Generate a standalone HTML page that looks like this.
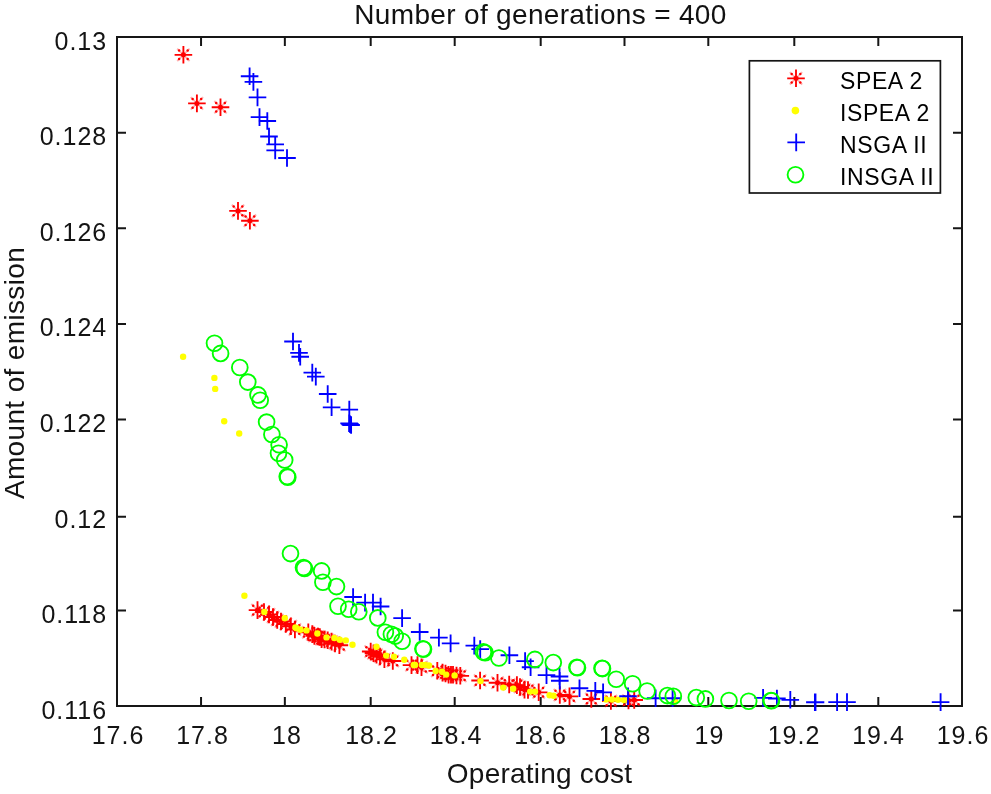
<!DOCTYPE html>
<html><head><meta charset="utf-8"><style>html,body{margin:0;padding:0;background:#fff;}svg{display:block;will-change:transform;}#w{width:991px;height:794px;overflow:hidden;}</style></head>
<body><div id="w"><svg width="991" height="794" viewBox="0 0 991 794">

<rect width="991" height="794" fill="#fff"/>
<g fill="none" stroke="#161616" stroke-width="2">
<rect x="117" y="37" width="845" height="669"/>
<path d="M117.00 706v-9M117.00 37v9M201.05 706v-9M201.05 37v9M284.85 706v-9M284.85 37v9M370.70 706v-9M370.70 37v9M454.70 706v-9M454.70 37v9M540.70 706v-9M540.70 37v9M624.50 706v-9M624.50 37v9M708.30 706v-9M708.30 37v9M794.30 706v-9M794.30 37v9M878.30 706v-9M878.30 37v9M962.00 706v-9M962.00 37v9M117 706.00h9M962 706.00h-9M117 610.40h9M962 610.40h-9M117 516.80h9M962 516.80h-9M117 419.40h9M962 419.40h-9M117 324.00h9M962 324.00h-9M117 228.20h9M962 228.20h-9M117 132.80h9M962 132.80h-9M117 37.00h9M962 37.00h-9"/>
</g>
<g fill="none" stroke-width="1.85" stroke-linecap="butt">
<g stroke="#ff0000"><path d="M174.6 54.8h17.6M183.4 46.0v17.6M188.1 103.4h17.6M196.9 94.6v17.6M211.7 107.2h17.6M220.5 98.4v17.6M229.2 210.9h17.6M238.0 202.1v17.6M241.1 220.7h17.6M249.9 211.9v17.6M248.7 610.1h17.6M257.5 601.3v17.6M255.2 612.0h17.6M264.0 603.2v17.6M260.2 614.4h17.6M269.0 605.6v17.6M264.2 617.0h17.6M273.0 608.2v17.6M268.4 620.0h17.6M277.2 611.2v17.6M272.2 621.5h17.6M281.0 612.7v17.6M277.0 624.0h17.6M285.8 615.2v17.6M282.0 626.2h17.6M290.8 617.4v17.6M286.1 629.5h17.6M294.9 620.7v17.6M299.5 632.3h17.6M308.3 623.5v17.6M303.5 634.1h17.6M312.3 625.3v17.6M305.6 635.9h17.6M314.4 627.1v17.6M309.2 636.5h17.6M318.0 627.7v17.6M311.0 637.0h17.6M319.8 628.2v17.6M312.8 639.2h17.6M321.6 630.4v17.6M315.7 639.5h17.6M324.5 630.7v17.6M318.9 640.2h17.6M327.7 631.4v17.6M322.8 641.6h17.6M331.6 632.8v17.6M326.2 643.5h17.6M335.0 634.7v17.6M330.6 645.2h17.6M339.4 636.4v17.6M361.9 651.5h17.6M370.7 642.7v17.6M364.7 653.2h17.6M373.5 644.4v17.6M367.7 654.7h17.6M376.5 645.9v17.6M371.2 656.5h17.6M380.0 647.7v17.6M375.6 659.3h17.6M384.4 650.5v17.6M384.0 661.0h17.6M392.8 652.2v17.6M402.7 665.1h17.6M411.5 656.3v17.6M408.7 665.1h17.6M417.5 656.3v17.6M412.7 667.2h17.6M421.5 658.4v17.6M428.5 670.8h17.6M437.3 662.0v17.6M433.7 672.6h17.6M442.5 663.8v17.6M436.7 673.5h17.6M445.5 664.7v17.6M439.8 674.8h17.6M448.6 666.0v17.6M442.2 674.8h17.6M451.0 666.0v17.6M444.2 674.8h17.6M453.0 666.0v17.6M447.7 675.5h17.6M456.5 666.7v17.6M451.5 675.8h17.6M460.3 667.0v17.6M471.3 680.5h17.6M480.1 671.7v17.6M488.7 682.7h17.6M497.5 673.9v17.6M500.4 684.5h17.6M509.2 675.7v17.6M508.1 685.1h17.6M516.9 676.3v17.6M511.2 687.0h17.6M520.0 678.2v17.6M515.7 689.6h17.6M524.5 680.8v17.6M519.2 690.0h17.6M528.0 681.2v17.6M529.9 692.3h17.6M538.7 683.5v17.6M551.0 695.0h17.6M559.8 686.2v17.6M560.7 696.4h17.6M569.5 687.6v17.6M582.5 699.0h17.6M591.3 690.2v17.6M602.1 701.0h17.6M610.9 692.2v17.6M619.7 700.5h17.6M628.5 691.7v17.6M625.4 700.0h17.6M634.2 691.2v17.6"/><path stroke-opacity="0.3" d="M177.2 48.6l12.4 12.4M177.2 61.0l12.4 -12.4M190.7 97.2l12.4 12.4M190.7 109.6l12.4 -12.4M214.3 101.0l12.4 12.4M214.3 113.4l12.4 -12.4M231.8 204.7l12.4 12.4M231.8 217.1l12.4 -12.4M243.7 214.5l12.4 12.4M243.7 226.9l12.4 -12.4M251.3 603.9l12.4 12.4M251.3 616.3l12.4 -12.4M257.8 605.8l12.4 12.4M257.8 618.2l12.4 -12.4M262.8 608.2l12.4 12.4M262.8 620.6l12.4 -12.4M266.8 610.8l12.4 12.4M266.8 623.2l12.4 -12.4M271.0 613.8l12.4 12.4M271.0 626.2l12.4 -12.4M274.8 615.3l12.4 12.4M274.8 627.7l12.4 -12.4M279.6 617.8l12.4 12.4M279.6 630.2l12.4 -12.4M284.6 620.0l12.4 12.4M284.6 632.4l12.4 -12.4M288.7 623.3l12.4 12.4M288.7 635.7l12.4 -12.4M302.1 626.1l12.4 12.4M302.1 638.5l12.4 -12.4M306.1 627.9l12.4 12.4M306.1 640.3l12.4 -12.4M308.2 629.7l12.4 12.4M308.2 642.1l12.4 -12.4M311.8 630.3l12.4 12.4M311.8 642.7l12.4 -12.4M313.6 630.8l12.4 12.4M313.6 643.2l12.4 -12.4M315.4 633.0l12.4 12.4M315.4 645.4l12.4 -12.4M318.3 633.3l12.4 12.4M318.3 645.7l12.4 -12.4M321.5 634.0l12.4 12.4M321.5 646.4l12.4 -12.4M325.4 635.4l12.4 12.4M325.4 647.8l12.4 -12.4M328.8 637.3l12.4 12.4M328.8 649.7l12.4 -12.4M333.2 639.0l12.4 12.4M333.2 651.4l12.4 -12.4M364.5 645.3l12.4 12.4M364.5 657.7l12.4 -12.4M367.3 647.0l12.4 12.4M367.3 659.4l12.4 -12.4M370.3 648.5l12.4 12.4M370.3 660.9l12.4 -12.4M373.8 650.3l12.4 12.4M373.8 662.7l12.4 -12.4M378.2 653.1l12.4 12.4M378.2 665.5l12.4 -12.4M386.6 654.8l12.4 12.4M386.6 667.2l12.4 -12.4M405.3 658.9l12.4 12.4M405.3 671.3l12.4 -12.4M411.3 658.9l12.4 12.4M411.3 671.3l12.4 -12.4M415.3 661.0l12.4 12.4M415.3 673.4l12.4 -12.4M431.1 664.6l12.4 12.4M431.1 677.0l12.4 -12.4M436.3 666.4l12.4 12.4M436.3 678.8l12.4 -12.4M439.3 667.3l12.4 12.4M439.3 679.7l12.4 -12.4M442.4 668.6l12.4 12.4M442.4 681.0l12.4 -12.4M444.8 668.6l12.4 12.4M444.8 681.0l12.4 -12.4M446.8 668.6l12.4 12.4M446.8 681.0l12.4 -12.4M450.3 669.3l12.4 12.4M450.3 681.7l12.4 -12.4M454.1 669.6l12.4 12.4M454.1 682.0l12.4 -12.4M473.9 674.3l12.4 12.4M473.9 686.7l12.4 -12.4M491.3 676.5l12.4 12.4M491.3 688.9l12.4 -12.4M503.0 678.3l12.4 12.4M503.0 690.7l12.4 -12.4M510.7 678.9l12.4 12.4M510.7 691.3l12.4 -12.4M513.8 680.8l12.4 12.4M513.8 693.2l12.4 -12.4M518.3 683.4l12.4 12.4M518.3 695.8l12.4 -12.4M521.8 683.8l12.4 12.4M521.8 696.2l12.4 -12.4M532.5 686.1l12.4 12.4M532.5 698.5l12.4 -12.4M553.6 688.8l12.4 12.4M553.6 701.2l12.4 -12.4M563.3 690.2l12.4 12.4M563.3 702.6l12.4 -12.4M585.1 692.8l12.4 12.4M585.1 705.2l12.4 -12.4M604.7 694.8l12.4 12.4M604.7 707.2l12.4 -12.4M622.3 694.3l12.4 12.4M622.3 706.7l12.4 -12.4M628.0 693.8l12.4 12.4M628.0 706.2l12.4 -12.4"/><g fill="#ff0000" stroke="none"><circle cx="183.4" cy="54.8" r="2.5"/><circle cx="179.1" cy="50.5" r="1.25"/><circle cx="179.1" cy="59.1" r="1.25"/><circle cx="187.7" cy="50.5" r="1.25"/><circle cx="187.7" cy="59.1" r="1.25"/><circle cx="196.9" cy="103.4" r="2.5"/><circle cx="192.6" cy="99.1" r="1.25"/><circle cx="192.6" cy="107.7" r="1.25"/><circle cx="201.2" cy="99.1" r="1.25"/><circle cx="201.2" cy="107.7" r="1.25"/><circle cx="220.5" cy="107.2" r="2.5"/><circle cx="216.2" cy="102.9" r="1.25"/><circle cx="216.2" cy="111.5" r="1.25"/><circle cx="224.8" cy="102.9" r="1.25"/><circle cx="224.8" cy="111.5" r="1.25"/><circle cx="238.0" cy="210.9" r="2.5"/><circle cx="233.7" cy="206.6" r="1.25"/><circle cx="233.7" cy="215.2" r="1.25"/><circle cx="242.3" cy="206.6" r="1.25"/><circle cx="242.3" cy="215.2" r="1.25"/><circle cx="249.9" cy="220.7" r="2.5"/><circle cx="245.6" cy="216.4" r="1.25"/><circle cx="245.6" cy="225.0" r="1.25"/><circle cx="254.2" cy="216.4" r="1.25"/><circle cx="254.2" cy="225.0" r="1.25"/><circle cx="257.5" cy="610.1" r="2.5"/><circle cx="253.2" cy="605.8" r="1.25"/><circle cx="253.2" cy="614.4" r="1.25"/><circle cx="261.8" cy="605.8" r="1.25"/><circle cx="261.8" cy="614.4" r="1.25"/><circle cx="264.0" cy="612.0" r="2.5"/><circle cx="259.7" cy="607.7" r="1.25"/><circle cx="259.7" cy="616.3" r="1.25"/><circle cx="268.3" cy="607.7" r="1.25"/><circle cx="268.3" cy="616.3" r="1.25"/><circle cx="269.0" cy="614.4" r="2.5"/><circle cx="264.7" cy="610.1" r="1.25"/><circle cx="264.7" cy="618.7" r="1.25"/><circle cx="273.3" cy="610.1" r="1.25"/><circle cx="273.3" cy="618.7" r="1.25"/><circle cx="273.0" cy="617.0" r="2.5"/><circle cx="268.7" cy="612.7" r="1.25"/><circle cx="268.7" cy="621.3" r="1.25"/><circle cx="277.3" cy="612.7" r="1.25"/><circle cx="277.3" cy="621.3" r="1.25"/><circle cx="277.2" cy="620.0" r="2.5"/><circle cx="272.9" cy="615.7" r="1.25"/><circle cx="272.9" cy="624.3" r="1.25"/><circle cx="281.5" cy="615.7" r="1.25"/><circle cx="281.5" cy="624.3" r="1.25"/><circle cx="281.0" cy="621.5" r="2.5"/><circle cx="276.7" cy="617.2" r="1.25"/><circle cx="276.7" cy="625.8" r="1.25"/><circle cx="285.3" cy="617.2" r="1.25"/><circle cx="285.3" cy="625.8" r="1.25"/><circle cx="285.8" cy="624.0" r="2.5"/><circle cx="281.5" cy="619.7" r="1.25"/><circle cx="281.5" cy="628.3" r="1.25"/><circle cx="290.1" cy="619.7" r="1.25"/><circle cx="290.1" cy="628.3" r="1.25"/><circle cx="290.8" cy="626.2" r="2.5"/><circle cx="286.5" cy="621.9" r="1.25"/><circle cx="286.5" cy="630.5" r="1.25"/><circle cx="295.1" cy="621.9" r="1.25"/><circle cx="295.1" cy="630.5" r="1.25"/><circle cx="294.9" cy="629.5" r="2.5"/><circle cx="290.6" cy="625.2" r="1.25"/><circle cx="290.6" cy="633.8" r="1.25"/><circle cx="299.2" cy="625.2" r="1.25"/><circle cx="299.2" cy="633.8" r="1.25"/><circle cx="308.3" cy="632.3" r="2.5"/><circle cx="304.0" cy="628.0" r="1.25"/><circle cx="304.0" cy="636.6" r="1.25"/><circle cx="312.6" cy="628.0" r="1.25"/><circle cx="312.6" cy="636.6" r="1.25"/><circle cx="312.3" cy="634.1" r="2.5"/><circle cx="308.0" cy="629.8" r="1.25"/><circle cx="308.0" cy="638.4" r="1.25"/><circle cx="316.6" cy="629.8" r="1.25"/><circle cx="316.6" cy="638.4" r="1.25"/><circle cx="314.4" cy="635.9" r="2.5"/><circle cx="310.1" cy="631.6" r="1.25"/><circle cx="310.1" cy="640.2" r="1.25"/><circle cx="318.7" cy="631.6" r="1.25"/><circle cx="318.7" cy="640.2" r="1.25"/><circle cx="318.0" cy="636.5" r="2.5"/><circle cx="313.7" cy="632.2" r="1.25"/><circle cx="313.7" cy="640.8" r="1.25"/><circle cx="322.3" cy="632.2" r="1.25"/><circle cx="322.3" cy="640.8" r="1.25"/><circle cx="319.8" cy="637.0" r="2.5"/><circle cx="315.5" cy="632.7" r="1.25"/><circle cx="315.5" cy="641.3" r="1.25"/><circle cx="324.1" cy="632.7" r="1.25"/><circle cx="324.1" cy="641.3" r="1.25"/><circle cx="321.6" cy="639.2" r="2.5"/><circle cx="317.3" cy="634.9" r="1.25"/><circle cx="317.3" cy="643.5" r="1.25"/><circle cx="325.9" cy="634.9" r="1.25"/><circle cx="325.9" cy="643.5" r="1.25"/><circle cx="324.5" cy="639.5" r="2.5"/><circle cx="320.2" cy="635.2" r="1.25"/><circle cx="320.2" cy="643.8" r="1.25"/><circle cx="328.8" cy="635.2" r="1.25"/><circle cx="328.8" cy="643.8" r="1.25"/><circle cx="327.7" cy="640.2" r="2.5"/><circle cx="323.4" cy="635.9" r="1.25"/><circle cx="323.4" cy="644.5" r="1.25"/><circle cx="332.0" cy="635.9" r="1.25"/><circle cx="332.0" cy="644.5" r="1.25"/><circle cx="331.6" cy="641.6" r="2.5"/><circle cx="327.3" cy="637.3" r="1.25"/><circle cx="327.3" cy="645.9" r="1.25"/><circle cx="335.9" cy="637.3" r="1.25"/><circle cx="335.9" cy="645.9" r="1.25"/><circle cx="335.0" cy="643.5" r="2.5"/><circle cx="330.7" cy="639.2" r="1.25"/><circle cx="330.7" cy="647.8" r="1.25"/><circle cx="339.3" cy="639.2" r="1.25"/><circle cx="339.3" cy="647.8" r="1.25"/><circle cx="339.4" cy="645.2" r="2.5"/><circle cx="335.1" cy="640.9" r="1.25"/><circle cx="335.1" cy="649.5" r="1.25"/><circle cx="343.7" cy="640.9" r="1.25"/><circle cx="343.7" cy="649.5" r="1.25"/><circle cx="370.7" cy="651.5" r="2.5"/><circle cx="366.4" cy="647.2" r="1.25"/><circle cx="366.4" cy="655.8" r="1.25"/><circle cx="375.0" cy="647.2" r="1.25"/><circle cx="375.0" cy="655.8" r="1.25"/><circle cx="373.5" cy="653.2" r="2.5"/><circle cx="369.2" cy="648.9" r="1.25"/><circle cx="369.2" cy="657.5" r="1.25"/><circle cx="377.8" cy="648.9" r="1.25"/><circle cx="377.8" cy="657.5" r="1.25"/><circle cx="376.5" cy="654.7" r="2.5"/><circle cx="372.2" cy="650.4" r="1.25"/><circle cx="372.2" cy="659.0" r="1.25"/><circle cx="380.8" cy="650.4" r="1.25"/><circle cx="380.8" cy="659.0" r="1.25"/><circle cx="380.0" cy="656.5" r="2.5"/><circle cx="375.7" cy="652.2" r="1.25"/><circle cx="375.7" cy="660.8" r="1.25"/><circle cx="384.3" cy="652.2" r="1.25"/><circle cx="384.3" cy="660.8" r="1.25"/><circle cx="384.4" cy="659.3" r="2.5"/><circle cx="380.1" cy="655.0" r="1.25"/><circle cx="380.1" cy="663.6" r="1.25"/><circle cx="388.7" cy="655.0" r="1.25"/><circle cx="388.7" cy="663.6" r="1.25"/><circle cx="392.8" cy="661.0" r="2.5"/><circle cx="388.5" cy="656.7" r="1.25"/><circle cx="388.5" cy="665.3" r="1.25"/><circle cx="397.1" cy="656.7" r="1.25"/><circle cx="397.1" cy="665.3" r="1.25"/><circle cx="411.5" cy="665.1" r="2.5"/><circle cx="407.2" cy="660.8" r="1.25"/><circle cx="407.2" cy="669.4" r="1.25"/><circle cx="415.8" cy="660.8" r="1.25"/><circle cx="415.8" cy="669.4" r="1.25"/><circle cx="417.5" cy="665.1" r="2.5"/><circle cx="413.2" cy="660.8" r="1.25"/><circle cx="413.2" cy="669.4" r="1.25"/><circle cx="421.8" cy="660.8" r="1.25"/><circle cx="421.8" cy="669.4" r="1.25"/><circle cx="421.5" cy="667.2" r="2.5"/><circle cx="417.2" cy="662.9" r="1.25"/><circle cx="417.2" cy="671.5" r="1.25"/><circle cx="425.8" cy="662.9" r="1.25"/><circle cx="425.8" cy="671.5" r="1.25"/><circle cx="437.3" cy="670.8" r="2.5"/><circle cx="433.0" cy="666.5" r="1.25"/><circle cx="433.0" cy="675.1" r="1.25"/><circle cx="441.6" cy="666.5" r="1.25"/><circle cx="441.6" cy="675.1" r="1.25"/><circle cx="442.5" cy="672.6" r="2.5"/><circle cx="438.2" cy="668.3" r="1.25"/><circle cx="438.2" cy="676.9" r="1.25"/><circle cx="446.8" cy="668.3" r="1.25"/><circle cx="446.8" cy="676.9" r="1.25"/><circle cx="445.5" cy="673.5" r="2.5"/><circle cx="441.2" cy="669.2" r="1.25"/><circle cx="441.2" cy="677.8" r="1.25"/><circle cx="449.8" cy="669.2" r="1.25"/><circle cx="449.8" cy="677.8" r="1.25"/><circle cx="448.6" cy="674.8" r="2.5"/><circle cx="444.3" cy="670.5" r="1.25"/><circle cx="444.3" cy="679.1" r="1.25"/><circle cx="452.9" cy="670.5" r="1.25"/><circle cx="452.9" cy="679.1" r="1.25"/><circle cx="451.0" cy="674.8" r="2.5"/><circle cx="446.7" cy="670.5" r="1.25"/><circle cx="446.7" cy="679.1" r="1.25"/><circle cx="455.3" cy="670.5" r="1.25"/><circle cx="455.3" cy="679.1" r="1.25"/><circle cx="453.0" cy="674.8" r="2.5"/><circle cx="448.7" cy="670.5" r="1.25"/><circle cx="448.7" cy="679.1" r="1.25"/><circle cx="457.3" cy="670.5" r="1.25"/><circle cx="457.3" cy="679.1" r="1.25"/><circle cx="456.5" cy="675.5" r="2.5"/><circle cx="452.2" cy="671.2" r="1.25"/><circle cx="452.2" cy="679.8" r="1.25"/><circle cx="460.8" cy="671.2" r="1.25"/><circle cx="460.8" cy="679.8" r="1.25"/><circle cx="460.3" cy="675.8" r="2.5"/><circle cx="456.0" cy="671.5" r="1.25"/><circle cx="456.0" cy="680.1" r="1.25"/><circle cx="464.6" cy="671.5" r="1.25"/><circle cx="464.6" cy="680.1" r="1.25"/><circle cx="480.1" cy="680.5" r="2.5"/><circle cx="475.8" cy="676.2" r="1.25"/><circle cx="475.8" cy="684.8" r="1.25"/><circle cx="484.4" cy="676.2" r="1.25"/><circle cx="484.4" cy="684.8" r="1.25"/><circle cx="497.5" cy="682.7" r="2.5"/><circle cx="493.2" cy="678.4" r="1.25"/><circle cx="493.2" cy="687.0" r="1.25"/><circle cx="501.8" cy="678.4" r="1.25"/><circle cx="501.8" cy="687.0" r="1.25"/><circle cx="509.2" cy="684.5" r="2.5"/><circle cx="504.9" cy="680.2" r="1.25"/><circle cx="504.9" cy="688.8" r="1.25"/><circle cx="513.5" cy="680.2" r="1.25"/><circle cx="513.5" cy="688.8" r="1.25"/><circle cx="516.9" cy="685.1" r="2.5"/><circle cx="512.6" cy="680.8" r="1.25"/><circle cx="512.6" cy="689.4" r="1.25"/><circle cx="521.2" cy="680.8" r="1.25"/><circle cx="521.2" cy="689.4" r="1.25"/><circle cx="520.0" cy="687.0" r="2.5"/><circle cx="515.7" cy="682.7" r="1.25"/><circle cx="515.7" cy="691.3" r="1.25"/><circle cx="524.3" cy="682.7" r="1.25"/><circle cx="524.3" cy="691.3" r="1.25"/><circle cx="524.5" cy="689.6" r="2.5"/><circle cx="520.2" cy="685.3" r="1.25"/><circle cx="520.2" cy="693.9" r="1.25"/><circle cx="528.8" cy="685.3" r="1.25"/><circle cx="528.8" cy="693.9" r="1.25"/><circle cx="528.0" cy="690.0" r="2.5"/><circle cx="523.7" cy="685.7" r="1.25"/><circle cx="523.7" cy="694.3" r="1.25"/><circle cx="532.3" cy="685.7" r="1.25"/><circle cx="532.3" cy="694.3" r="1.25"/><circle cx="538.7" cy="692.3" r="2.5"/><circle cx="534.4" cy="688.0" r="1.25"/><circle cx="534.4" cy="696.6" r="1.25"/><circle cx="543.0" cy="688.0" r="1.25"/><circle cx="543.0" cy="696.6" r="1.25"/><circle cx="559.8" cy="695.0" r="2.5"/><circle cx="555.5" cy="690.7" r="1.25"/><circle cx="555.5" cy="699.3" r="1.25"/><circle cx="564.1" cy="690.7" r="1.25"/><circle cx="564.1" cy="699.3" r="1.25"/><circle cx="569.5" cy="696.4" r="2.5"/><circle cx="565.2" cy="692.1" r="1.25"/><circle cx="565.2" cy="700.7" r="1.25"/><circle cx="573.8" cy="692.1" r="1.25"/><circle cx="573.8" cy="700.7" r="1.25"/><circle cx="591.3" cy="699.0" r="2.5"/><circle cx="587.0" cy="694.7" r="1.25"/><circle cx="587.0" cy="703.3" r="1.25"/><circle cx="595.6" cy="694.7" r="1.25"/><circle cx="595.6" cy="703.3" r="1.25"/><circle cx="610.9" cy="701.0" r="2.5"/><circle cx="606.6" cy="696.7" r="1.25"/><circle cx="606.6" cy="705.3" r="1.25"/><circle cx="615.2" cy="696.7" r="1.25"/><circle cx="615.2" cy="705.3" r="1.25"/><circle cx="628.5" cy="700.5" r="2.5"/><circle cx="624.2" cy="696.2" r="1.25"/><circle cx="624.2" cy="704.8" r="1.25"/><circle cx="632.8" cy="696.2" r="1.25"/><circle cx="632.8" cy="704.8" r="1.25"/><circle cx="634.2" cy="700.0" r="2.5"/><circle cx="629.9" cy="695.7" r="1.25"/><circle cx="629.9" cy="704.3" r="1.25"/><circle cx="638.5" cy="695.7" r="1.25"/><circle cx="638.5" cy="704.3" r="1.25"/></g></g>
<g fill="#ffff00" stroke="none"><circle cx="183.1" cy="356.8" r="3.2"/><circle cx="214.4" cy="377.9" r="3.2"/><circle cx="215.2" cy="388.9" r="3.2"/><circle cx="224.2" cy="421.3" r="3.2"/><circle cx="239.2" cy="433.5" r="3.2"/><circle cx="244.4" cy="595.8" r="3.2"/><circle cx="264.3" cy="611.9" r="3.2"/><circle cx="284.8" cy="618.2" r="3.2"/><circle cx="295.4" cy="627.5" r="3.2"/><circle cx="296.8" cy="628.3" r="3.2"/><circle cx="300.4" cy="629.8" r="3.2"/><circle cx="306.5" cy="630.4" r="3.2"/><circle cx="317.4" cy="633.5" r="3.2"/><circle cx="326.5" cy="637.4" r="3.2"/><circle cx="334.3" cy="638.0" r="3.2"/><circle cx="339.8" cy="639.8" r="3.2"/><circle cx="345.8" cy="640.4" r="3.2"/><circle cx="352.5" cy="644.7" r="3.2"/><circle cx="376.5" cy="646.8" r="3.2"/><circle cx="386.2" cy="655.6" r="3.2"/><circle cx="394.0" cy="656.8" r="3.2"/><circle cx="404.3" cy="659.8" r="3.2"/><circle cx="413.7" cy="665.0" r="3.2"/><circle cx="415.1" cy="664.9" r="3.2"/><circle cx="422.0" cy="665.0" r="3.2"/><circle cx="425.2" cy="664.9" r="3.2"/><circle cx="429.0" cy="665.5" r="3.2"/><circle cx="435.7" cy="671.0" r="3.2"/><circle cx="442.1" cy="671.8" r="3.2"/><circle cx="446.2" cy="674.6" r="3.2"/><circle cx="454.6" cy="675.4" r="3.2"/><circle cx="480.5" cy="681.1" r="3.2"/><circle cx="503.2" cy="687.6" r="3.2"/><circle cx="513.2" cy="688.8" r="3.2"/><circle cx="530.2" cy="691.6" r="3.2"/><circle cx="535.0" cy="691.6" r="3.2"/><circle cx="549.6" cy="695.3" r="3.2"/><circle cx="553.6" cy="695.7" r="3.2"/><circle cx="606.0" cy="699.5" r="3.2"/><circle cx="612.0" cy="699.5" r="3.2"/><circle cx="618.0" cy="699.8" r="3.2"/><circle cx="624.0" cy="700.0" r="3.2"/><circle cx="675.0" cy="701.0" r="3.2"/></g>
<g stroke="#0000ff"><path d="M240.8 76.2h17.6M249.6 67.4v17.6M244.6 81.9h17.6M253.4 73.1v17.6M248.7 97.4h17.6M257.5 88.6v17.6M250.7 117.1h17.6M259.5 108.3v17.6M258.5 121.0h17.6M267.3 112.2v17.6M260.2 136.5h17.6M269.0 127.7v17.6M266.4 144.3h17.6M275.2 135.5v17.6M266.4 150.4h17.6M275.2 141.6v17.6M278.2 158.0h17.6M287.0 149.2v17.6M284.2 341.5h17.6M293.0 332.7v17.6M290.2 352.9h17.6M299.0 344.1v17.6M291.4 356.7h17.6M300.2 347.9v17.6M303.5 372.6h17.6M312.3 363.8v17.6M307.0 376.6h17.6M315.8 367.8v17.6M318.9 394.0h17.6M327.7 385.2v17.6M322.8 407.3h17.6M331.6 398.5v17.6M340.5 409.6h17.6M349.3 400.8v17.6M340.3 423.3h17.6M349.1 414.5v17.6M341.3 424.2h17.6M350.1 415.4v17.6M342.3 425.0h17.6M351.1 416.2v17.6M344.3 597.0h17.6M353.1 588.2v17.6M356.3 602.6h17.6M365.1 593.8v17.6M364.2 602.6h17.6M373.0 593.8v17.6M371.8 606.5h17.6M380.6 597.7v17.6M393.3 618.1h17.6M402.1 609.3v17.6M410.9 632.0h17.6M419.7 623.2v17.6M430.1 637.6h17.6M438.9 628.8v17.6M441.8 643.4h17.6M450.6 634.6v17.6M465.5 645.6h17.6M474.3 636.8v17.6M471.4 649.1h17.6M480.2 640.3v17.6M500.6 655.2h17.6M509.4 646.4v17.6M516.3 661.1h17.6M525.1 652.3v17.6M521.8 667.2h17.6M530.6 658.4v17.6M537.7 675.1h17.6M546.5 666.3v17.6M550.7 676.5h17.6M559.5 667.7v17.6M551.0 680.7h17.6M559.8 671.9v17.6M570.7 688.2h17.6M579.5 679.4v17.6M586.5 690.8h17.6M595.3 682.0v17.6M594.3 692.3h17.6M603.1 683.5v17.6M619.2 696.2h17.6M628.0 687.4v17.6M646.8 698.2h17.6M655.6 689.4v17.6M663.8 698.2h17.6M672.6 689.4v17.6M754.3 697.9h17.6M763.1 689.1v17.6M768.1 698.5h17.6M776.9 689.7v17.6M781.5 699.8h17.6M790.3 691.0v17.6M806.1 702.2h17.6M814.9 693.4v17.6M806.7 702.2h17.6M815.5 693.4v17.6M828.3 702.1h17.6M837.1 693.3v17.6M838.2 702.1h17.6M847.0 693.3v17.6M931.8 702.1h17.6M940.6 693.3v17.6"/></g>
<g stroke="#00ff00"><circle cx="214.5" cy="343.2" r="7.9"/><circle cx="220.6" cy="353.4" r="7.9"/><circle cx="239.8" cy="367.5" r="7.9"/><circle cx="247.8" cy="382.1" r="7.9"/><circle cx="258.0" cy="394.9" r="7.9"/><circle cx="260.2" cy="400.3" r="7.9"/><circle cx="266.6" cy="422.1" r="7.9"/><circle cx="271.9" cy="434.5" r="7.9"/><circle cx="279.1" cy="444.7" r="7.9"/><circle cx="278.5" cy="453.2" r="7.9"/><circle cx="284.7" cy="460.0" r="7.9"/><circle cx="287.2" cy="476.5" r="7.9"/><circle cx="287.8" cy="477.3" r="7.9"/><circle cx="290.5" cy="553.6" r="7.9"/><circle cx="303.5" cy="567.5" r="7.9"/><circle cx="304.5" cy="568.5" r="7.9"/><circle cx="321.6" cy="570.9" r="7.9"/><circle cx="322.9" cy="582.2" r="7.9"/><circle cx="336.5" cy="586.6" r="7.9"/><circle cx="338.0" cy="606.2" r="7.9"/><circle cx="348.7" cy="609.3" r="7.9"/><circle cx="358.8" cy="611.8" r="7.9"/><circle cx="377.8" cy="617.9" r="7.9"/><circle cx="385.4" cy="632.3" r="7.9"/><circle cx="391.4" cy="634.2" r="7.9"/><circle cx="395.2" cy="636.1" r="7.9"/><circle cx="402.1" cy="641.2" r="7.9"/><circle cx="422.9" cy="648.7" r="7.9"/><circle cx="423.5" cy="649.2" r="7.9"/><circle cx="483.4" cy="651.9" r="7.9"/><circle cx="485.1" cy="652.8" r="7.9"/><circle cx="498.9" cy="658.0" r="7.9"/><circle cx="534.9" cy="659.4" r="7.9"/><circle cx="553.3" cy="662.6" r="7.9"/><circle cx="576.9" cy="667.2" r="7.9"/><circle cx="577.5" cy="667.7" r="7.9"/><circle cx="602.0" cy="668.3" r="7.9"/><circle cx="602.5" cy="668.6" r="7.9"/><circle cx="616.2" cy="679.2" r="7.9"/><circle cx="632.6" cy="683.8" r="7.9"/><circle cx="647.1" cy="691.0" r="7.9"/><circle cx="667.4" cy="695.6" r="7.9"/><circle cx="673.3" cy="696.2" r="7.9"/><circle cx="696.3" cy="697.6" r="7.9"/><circle cx="705.4" cy="698.9" r="7.9"/><circle cx="729.0" cy="700.5" r="7.9"/><circle cx="748.7" cy="701.2" r="7.9"/><circle cx="771.0" cy="700.5" r="7.9"/><circle cx="771.5" cy="700.8" r="7.9"/></g>
</g>
<g font-family="Liberation Sans, sans-serif" font-size="25" fill="#141414" letter-spacing="1.0">
<text x="118.00" y="744.4" text-anchor="middle">17.6</text><text x="202.50" y="744.4" text-anchor="middle">17.8</text><text x="287.00" y="744.4" text-anchor="middle">18</text><text x="371.50" y="744.4" text-anchor="middle">18.2</text><text x="456.00" y="744.4" text-anchor="middle">18.4</text><text x="540.50" y="744.4" text-anchor="middle">18.6</text><text x="625.00" y="744.4" text-anchor="middle">18.8</text><text x="709.50" y="744.4" text-anchor="middle">19</text><text x="794.00" y="744.4" text-anchor="middle">19.2</text><text x="878.50" y="744.4" text-anchor="middle">19.4</text><text x="963.00" y="744.4" text-anchor="middle">19.6</text><text x="107.2" y="718.70" text-anchor="end">0.116</text><text x="107.2" y="623.13" text-anchor="end">0.118</text><text x="107.2" y="527.56" text-anchor="end">0.12</text><text x="107.2" y="431.99" text-anchor="end">0.122</text><text x="107.2" y="336.41" text-anchor="end">0.124</text><text x="107.2" y="240.84" text-anchor="end">0.126</text><text x="107.2" y="145.27" text-anchor="end">0.128</text><text x="107.2" y="49.70" text-anchor="end">0.13</text>
</g>
<g font-family="Liberation Sans, sans-serif" font-size="28" fill="#111">
<text x="540.5" y="23.8" text-anchor="middle" letter-spacing="0.33">Number of generations = 400</text>
<text x="539.5" y="783.3" text-anchor="middle" letter-spacing="0.23" fill="#141414">Operating cost</text>
<text transform="translate(24.2,373) rotate(-90)" text-anchor="middle" letter-spacing="0.35" fill="#141414">Amount of emission</text>
</g>
<g>
<rect x="749.4" y="60.8" width="191" height="132.2" fill="#fff" stroke="#141414" stroke-width="1.7"/>
<g fill="none" stroke-width="1.85">
<g stroke="#ff0000"><path d="M787.2 78.3h17.6M796.0 69.5v17.6"/><path stroke-opacity="0.3" d="M789.8 72.1l12.4 12.4M789.8 84.5l12.4 -12.4"/><g fill="#ff0000" stroke="none"><circle cx="796.0" cy="78.3" r="2.5"/><circle cx="791.7" cy="74.0" r="1.25"/><circle cx="791.7" cy="82.6" r="1.25"/><circle cx="800.3" cy="74.0" r="1.25"/><circle cx="800.3" cy="82.6" r="1.25"/></g></g>
<circle cx="795.4" cy="110.6" r="3.8" fill="#ffff00" stroke="none"/>
<path stroke="#0000ff" d="M787.4 142.4h17.6M796.2 133.6v17.6"/>
<circle cx="795.5" cy="174.7" r="7.9" stroke="#00ff00"/>
</g>
<g font-family="Liberation Sans, sans-serif" font-size="23" fill="#000" letter-spacing="0.6">
<text x="840" y="88.9">SPEA 2</text>
<text x="840" y="120.6">ISPEA 2</text>
<text x="840" y="152.9">NSGA II</text>
<text x="840" y="184.5">INSGA II</text>
</g>
</g>
</svg></div></body></html>
